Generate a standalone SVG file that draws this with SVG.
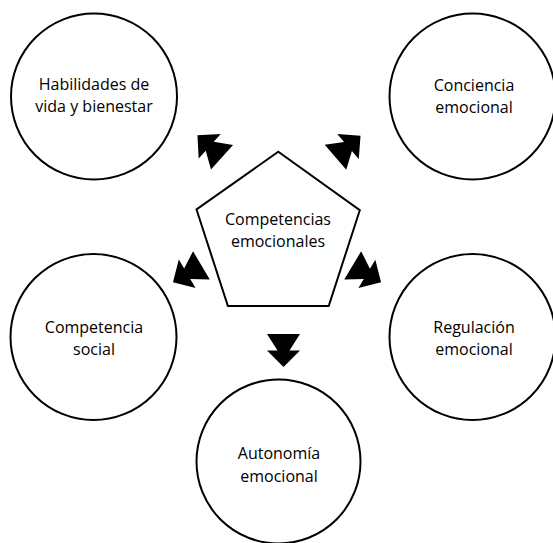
<svg xmlns="http://www.w3.org/2000/svg" width="553" height="543" viewBox="0 0 553 543">
<defs>
<style>
.node{fill:#fff;stroke:#000;stroke-width:2}
.lbl{font-family:"Open Sans","Liberation Sans",sans-serif;font-size:16px;fill:#000;text-anchor:middle}
.arr{fill:#000}
</style>
<polygon id="dbl" points="-16.5,0 16.5,0 6,16.5 16.5,16.5 0,33 -16.5,16.5 -6,16.5"/>
</defs>
<rect width="553" height="543" fill="#fff"/>
<g id="center">
<polygon class="node" points="278.3,151.7 359.8,210.2 328.7,306 227.9,306 196.5,209.5"/>
<text class="lbl" x="278" y="224.5">Competencias</text>
<text class="lbl" x="278" y="246.5">emocionales</text>
</g>
<g id="habilidades">
<circle class="node" cx="94" cy="96.5" r="83"/>
<text class="lbl" x="94" y="90">Habilidades de</text>
<text class="lbl" x="94" y="112">vida y bienestar</text>
</g>
<g id="conciencia">
<circle class="node" cx="472.5" cy="96.5" r="83"/>
<text class="lbl" x="474" y="91">Conciencia</text>
<text class="lbl" x="474" y="113">emocional</text>
</g>
<g id="social">
<circle class="node" cx="93.5" cy="337" r="83"/>
<text class="lbl" x="94" y="332.5">Competencia</text>
<text class="lbl" x="94" y="355">social</text>
</g>
<g id="regulacion">
<circle class="node" cx="472.5" cy="337" r="83"/>
<text class="lbl" x="474" y="332.5">Regulación</text>
<text class="lbl" x="474" y="355">emocional</text>
</g>
<g id="autonomia">
<circle class="node" cx="278.5" cy="461.5" r="82"/>
<text class="lbl" x="279" y="459">Autonomía</text>
<text class="lbl" x="279" y="481.5">emocional</text>
</g>
<g id="connectors" class="arr">
<use href="#dbl" transform="translate(222,157.2) rotate(131.9)"/>
<use href="#dbl" transform="translate(335.5,157.2) rotate(-130.7)"/>
<use href="#dbl" transform="translate(201.4,265.4) rotate(59.5)"/>
<use href="#dbl" transform="translate(352.7,265.4) rotate(-59.2)"/>
<use href="#dbl" transform="translate(283.5,334) rotate(0)"/>
</g>
</svg>
